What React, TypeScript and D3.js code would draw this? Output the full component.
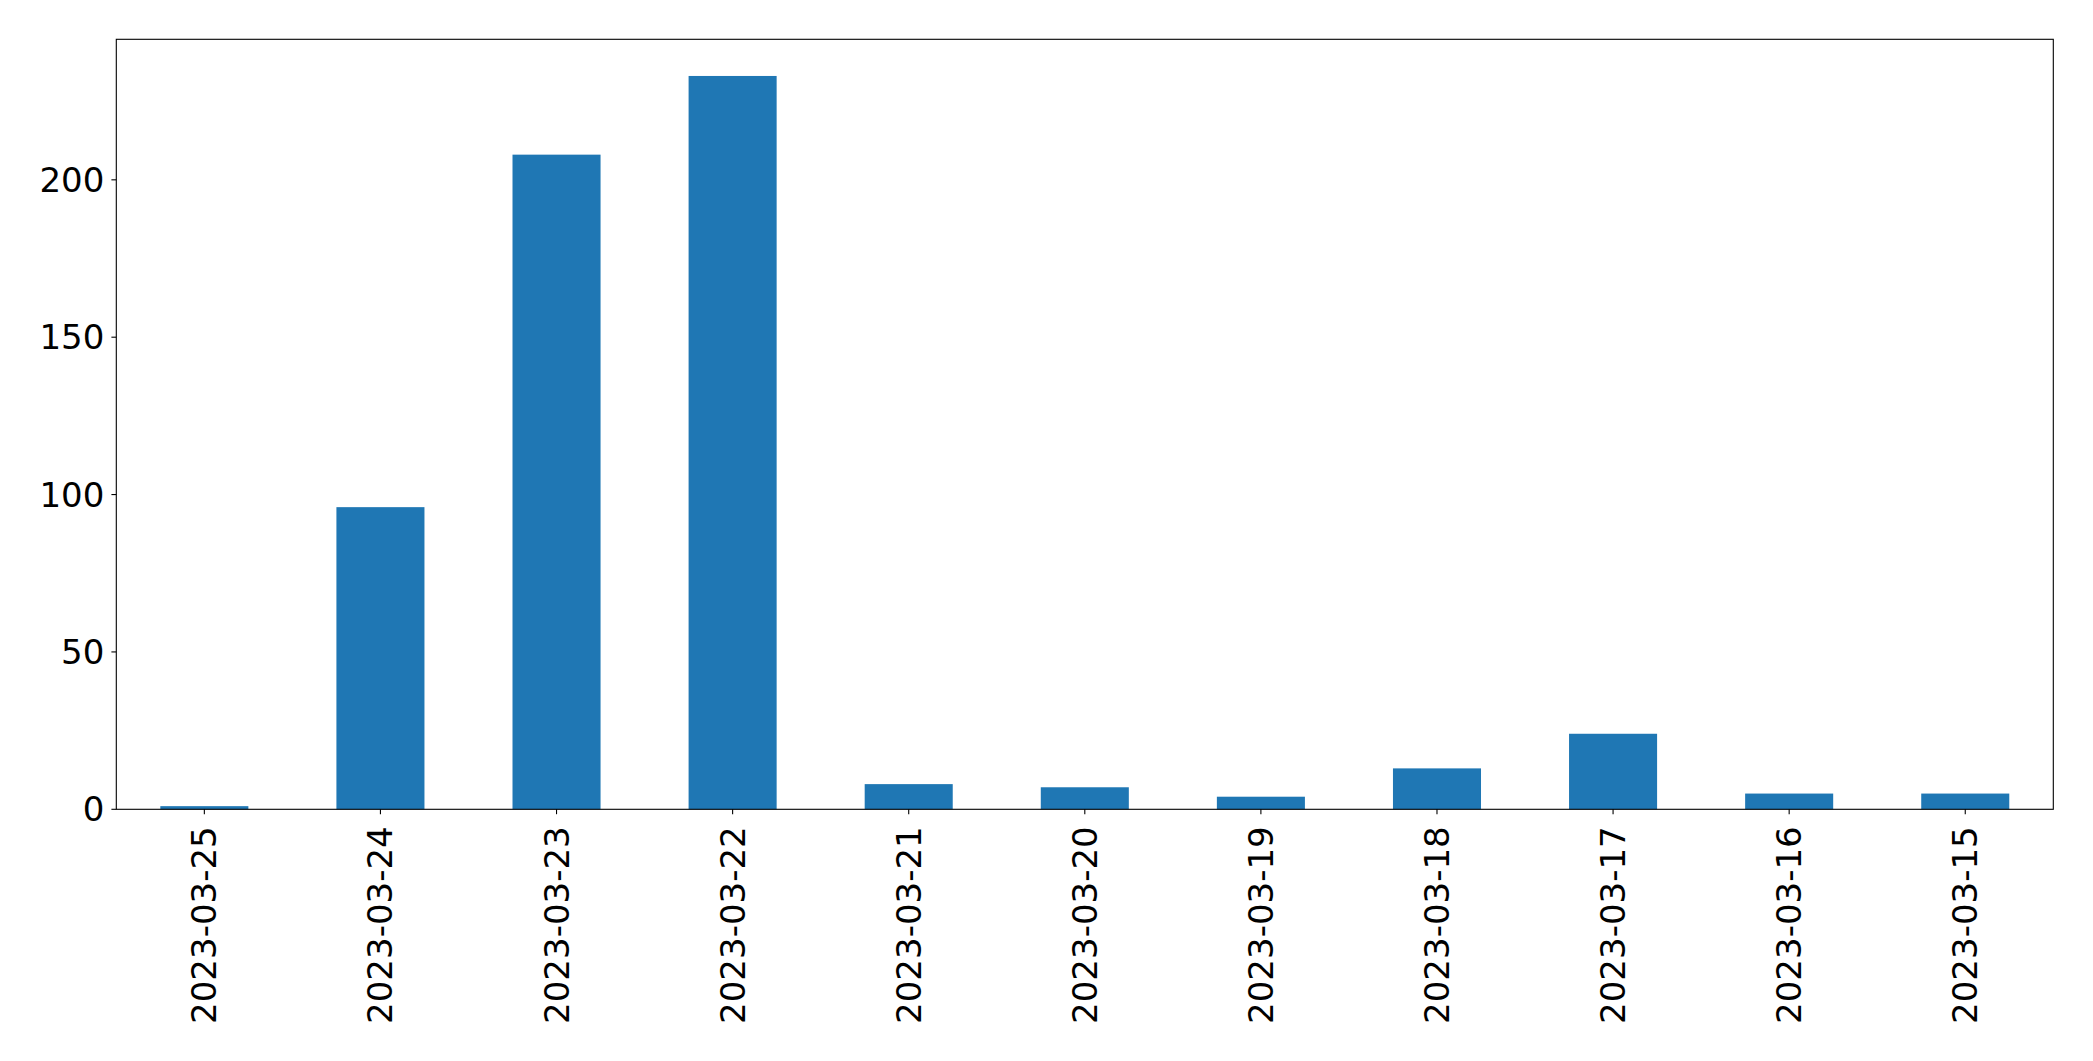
import React from "react";
import * as d3 from "d3";

const categories = [
  "2023-03-25", "2023-03-24", "2023-03-23", "2023-03-22", "2023-03-21",
  "2023-03-20", "2023-03-19", "2023-03-18", "2023-03-17", "2023-03-16", "2023-03-15",
];
const values = [1, 96, 208, 233, 8, 7, 4, 13, 24, 5, 5];
const yTicks = [0, 50, 100, 150, 200];

const W = 2093;
const H = 1061;
const M = { left: 116.3, right: 2053.3, top: 39.3, bottom: 809.3 };
const FONT = "'DejaVu Sans', sans-serif";
const FS = 34;

export default function App() {
  const x = d3
    .scaleBand<string>()
    .domain(categories)
    .range([M.left, M.right])
    .paddingInner(0.5)
    .paddingOuter(0.25);
  const yMax = (d3.max(values) as number) * 1.05;
  const y = d3.scaleLinear().domain([0, yMax]).range([M.bottom, M.top]);
  const bw = x.bandwidth();

  return (
    <svg
      width={W}
      height={H}
      style={{ position: "absolute", left: 0, top: 0, background: "#fff" }}
    >
      <rect x={0} y={0} width={W} height={H} fill="#fff" />
      {values.map((v, i) => (
        <rect
          key={categories[i]}
          x={x(categories[i])}
          y={y(v)}
          width={bw}
          height={y(0) - y(v)}
          fill="#1f77b4"
        />
      ))}
      {yTicks.map((t) => (
        <g key={t}>
          <line x1={M.left - 4.9} x2={M.left} y1={y(t)} y2={y(t)} stroke="#000" strokeWidth={1.1} />
          <text
            x={M.left - 12}
            y={y(t)}
            textAnchor="end"
            dominantBaseline="central"
            fontFamily={FONT}
            fontSize={FS}
            fill="#000"
          >
            {t}
          </text>
        </g>
      ))}
      {categories.map((c) => {
        const cx = (x(c) as number) + bw / 2;
        return (
          <g key={c}>
            <line x1={cx} x2={cx} y1={M.bottom} y2={M.bottom + 4.9} stroke="#000" strokeWidth={1.1} />
            <text
              transform={`translate(${cx},${M.bottom + 17}) rotate(-90)`}
              textAnchor="end"
              dominantBaseline="central"
              fontFamily={FONT}
              fontSize={FS}
              fill="#000"
            >
              {c}
            </text>
          </g>
        );
      })}
      <rect
        x={M.left}
        y={M.top}
        width={M.right - M.left}
        height={M.bottom - M.top}
        fill="none"
        stroke="#000"
        strokeWidth={1.1}
      />
    </svg>
  );
}
